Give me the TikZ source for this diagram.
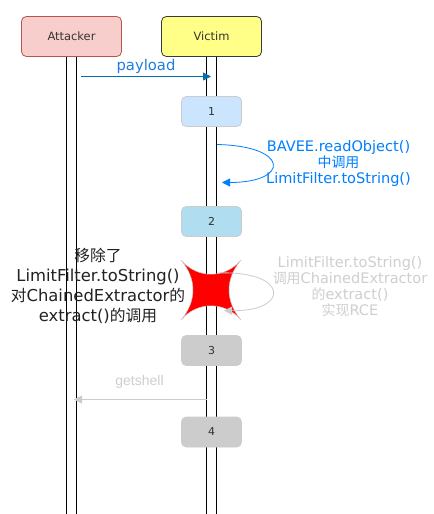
\documentclass[tikz,border=0pt]{standalone}
\usepackage{fontspec}
\setmainfont{DejaVu Sans}
\newfontfamily\cjk[Scale=0.96]{Noto Sans CJK SC}
\newfontfamily\helv{Liberation Sans}
\usetikzlibrary{arrows.meta}
\definecolor{bluetxt}{HTML}{007FFF}
\definecolor{payblue}{HTML}{006EAF}
\definecolor{paytxt}{HTML}{1F7FDB}
\definecolor{ghost}{HTML}{CCCCCC}
\definecolor{ghosttxt}{HTML}{CFCFCF}
\definecolor{darktxt}{HTML}{222222}
\definecolor{attfill}{HTML}{F8CECC}
\definecolor{attdraw}{HTML}{B85450}
\definecolor{vicfill}{HTML}{FFFF88}
\definecolor{vicdraw}{HTML}{36393D}
\definecolor{onefill}{HTML}{CCE5FF}
\definecolor{twofill}{HTML}{B1DDF0}
\tikzset{
  actor/.style={draw,rounded corners=3.6pt,minimum width=75pt,minimum height=30pt,inner sep=0pt,line width=.6pt,font=\fontsize{8.6pt}{10pt}\selectfont,text=black!80},
  lifeline/.style={draw=black,fill=white,line width=.75pt},
  stepbox/.style={rounded corners=3.6pt,minimum width=45pt,minimum height=22.5pt,inner sep=0pt,font=\fontsize{8.2pt}{9pt}\selectfont,text=black!80,line width=.6pt},
  note/.style={align=center,inner sep=0pt,font=\fontsize{10.9pt}{12pt}\selectfont},
  tip/.style={-{Triangle[length=6pt,width=6pt]}}
}
\begin{document}
\begin{tikzpicture}[x=.75pt,y=-.75pt]
\useasboundingbox (0,0) rectangle (434,514);
\fill[white] (0,0) rectangle (434,514);
\draw[lifeline] (66.5,56.5) rectangle (76.5,514.5);
\draw[lifeline] (206.5,56.5) rectangle (216.5,514.5);
\node[actor,fill=attfill,draw=attdraw] (att) at (71.5,36.5) {Attacker};
\node[actor,fill=vicfill,draw=vicdraw] (vic) at (211.5,36.5) {Victim};
\node[stepbox,fill=onefill,draw=black!20] (s1) at (211.5,111.5) {1};
\node[stepbox,fill=twofill,draw=black!20] (s2) at (211.5,221.5) {2};
\node[stepbox,fill=ghost,draw=ghost] (s3) at (211.5,350.5) {3};
\node[stepbox,fill=ghost,draw=ghost] (s4) at (211.5,432) {4};
\coordinate (pa) at (81,76.5);
\coordinate (pb) at (211,76.5);
\draw[tip,draw=payblue,fill=payblue,line width=.6pt] (pa) -- (pb);
\node[inner sep=0pt,text=paytxt,font=\fontsize{11.1pt}{13pt}\selectfont] (lpay) at (146,66) {payload};
\coordinate (l1a) at (217,144.5);
\coordinate (l1b) at (222,182.5);
\draw[tip,draw=bluetxt,fill=none,line width=.6pt] (l1a) .. controls (290,146) and (290,182.5) .. (l1b);
\node[note,text=bluetxt] (n1) at (338.5,163) {BAVEE.readObject()\\{\cjk 中调用}\\LimitFilter.toString()};
\coordinate (st) at (211,290);
\fill[red,draw=ghost,line width=.3pt] (181,260) .. controls (197,279) and (225,279) .. (241,260)
  .. controls (225,279) and (225,301) .. (241,320)
  .. controls (225,301) and (197,301) .. (181,320)
  .. controls (197,301) and (197,279) .. (181,260) -- cycle;
\coordinate (l2a) at (217,273);
\coordinate (l2b) at (224,310.5);
\draw[tip,draw=ghost,line width=.6pt] (l2a) .. controls (290,270) and (290,312) .. (l2b);
\node[note,text=ghosttxt] (n2) at (350,287) {LimitFilter.toString()\\{\cjk 调用}ChainedExtractor\\{\cjk 的}extract()\\{\cjk 实现}RCE};
\node[note,text=darktxt,font=\fontsize{12.3pt}{15pt}\selectfont] (n3) at (98,286) {{\cjk 移除了}\\LimitFilter.toString()\\{\cjk 对}ChainedExtractor{\cjk 的}\\extract(){\cjk 的调用}};
\coordinate (ga) at (207,399.5);
\coordinate (gb) at (74,399.5);
\draw[tip,draw=ghost,line width=.6pt] (ga) -- (gb);
\node[inner sep=0pt,text=ghosttxt,font=\helv\fontsize{10.5pt}{12pt}\selectfont] (lg) at (139.5,381.5) {getshell};
\end{tikzpicture}
\end{document}
